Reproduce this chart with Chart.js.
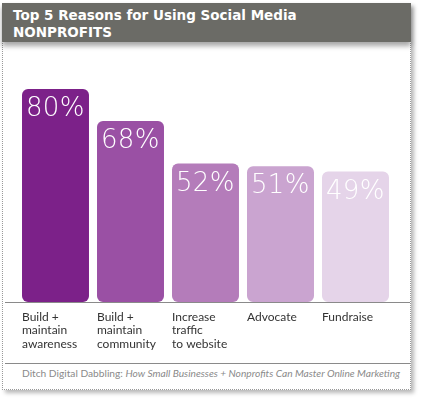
<!DOCTYPE html>
<html>
<head>
<meta charset="utf-8">
<script src="https://cdn.jsdelivr.net/npm/chart.js@4"></script>
<style>
  html, body { margin:0; padding:0; background:#fff; width:425px; height:399px; overflow:hidden; }
  #card { position:absolute; left:2px; top:3px; width:407px; height:386px;
          border-left:1px dotted #999; border-right:1px dotted #999; border-bottom:1px dotted #999;
          box-shadow: 3px 3px 4px rgba(0,0,0,0.28); background:#fff; }
  #titlebar { position:absolute; left:2px; top:3px; width:409px; height:39px; background:#6b6b66;
              box-shadow: 0 4px 5px rgba(0,0,0,0.35); }
  #title { position:absolute; left:13px; top:7px; color:#fff; font-family:"DejaVu Sans", sans-serif;
           font-weight:bold; font-size:13.5px; line-height:16.5px; white-space:nowrap; }
  #sep { position:absolute; left:5px; top:363px; width:405px; height:1px; background:#8a8a8a; }
  #footer { position:absolute; left:22px; top:366px; color:#8a8a8a; font-family:"Lato", sans-serif;
            font-size:10.2px; line-height:14px; white-space:nowrap; }
  #c { position:absolute; left:0; top:45px; }
</style>
</head>
<body>
<div id="card"></div>
<div id="titlebar"></div>
<div id="title">Top 5 Reasons for Using Social Media<br>NONPROFITS</div>
<canvas id="c" width="425" height="312"></canvas>
<div id="sep"></div>
<div id="footer">Ditch Digital Dabbling: <i>How Small Businesses + Nonprofits Can Master Online Marketing</i></div>
<script>
const categories = [
  ["Build +", "maintain", "awareness"],
  ["Build +", "maintain", "community"],
  ["Increase", "traffic", "to website"],
  ["Advocate"],
  ["Fundraise"]
];
const values = [80, 68, 52, 51, 49];
const valueLabels = ["80%", "68%", "52%", "51%", "49%"];
const barColors = ["#7c2189", "#9a50a4", "#b47cba", "#caa4d0", "#e5d4e9"];

const valueLabelPlugin = {
  id: "valueLabels",
  afterDatasetsDraw(chart) {
    const ctx = chart.ctx;
    const meta = chart.getDatasetMeta(0);
    ctx.save();
    ctx.fillStyle = "#ffffff";
    ctx.font = "200 26px 'DejaVu Sans', sans-serif";
    try { ctx.letterSpacing = "0.3px"; } catch (e) {}
    ctx.textBaseline = "alphabetic";
    ctx.textAlign = "left";
    meta.data.forEach((bar, i) => {
      const left = bar.x - bar.width / 2;
      ctx.fillText(valueLabels[i], left + 4, bar.y + 27);
    });
    try { ctx.letterSpacing = "0px"; } catch (e) {}
    // baseline axis line spanning the card
    const y0 = Math.round(chart.scales.y.getPixelForValue(0)) + 0.5;
    ctx.strokeStyle = "#8a8a8a";
    ctx.lineWidth = 1;
    ctx.beginPath();
    ctx.moveTo(5, y0);
    ctx.lineTo(410, y0);
    ctx.stroke();
    ctx.restore();
  }
};

new Chart(document.getElementById("c"), {
  type: "bar",
  data: {
    labels: categories,
    datasets: [{
      data: values,
      backgroundColor: barColors,
      borderRadius: 6,
      borderSkipped: false,
      barPercentage: 0.893,
      categoryPercentage: 1.0
    }]
  },
  options: {
    responsive: false,
    animation: false,
    layout: { padding: { left: 18, right: 32, top: 44, bottom: 0 } },
    plugins: { legend: { display: false }, tooltip: { enabled: false } },
    scales: {
      y: { display: false, min: 0, max: 80 },
      x: {
        grid: { display: false, drawTicks: false },
        border: { display: false },
        afterFit: (scale) => { scale.height = 55; },
        ticks: {
          align: "start",
          labelOffset: -33.5,
          padding: 8,
          color: "#333333",
          font: { family: "Lato, sans-serif", size: 12, lineHeight: 1.125 },
          maxRotation: 0, minRotation: 0, autoSkip: false
        }
      }
    }
  },
  plugins: [valueLabelPlugin]
});
</script>
</body>
</html>
